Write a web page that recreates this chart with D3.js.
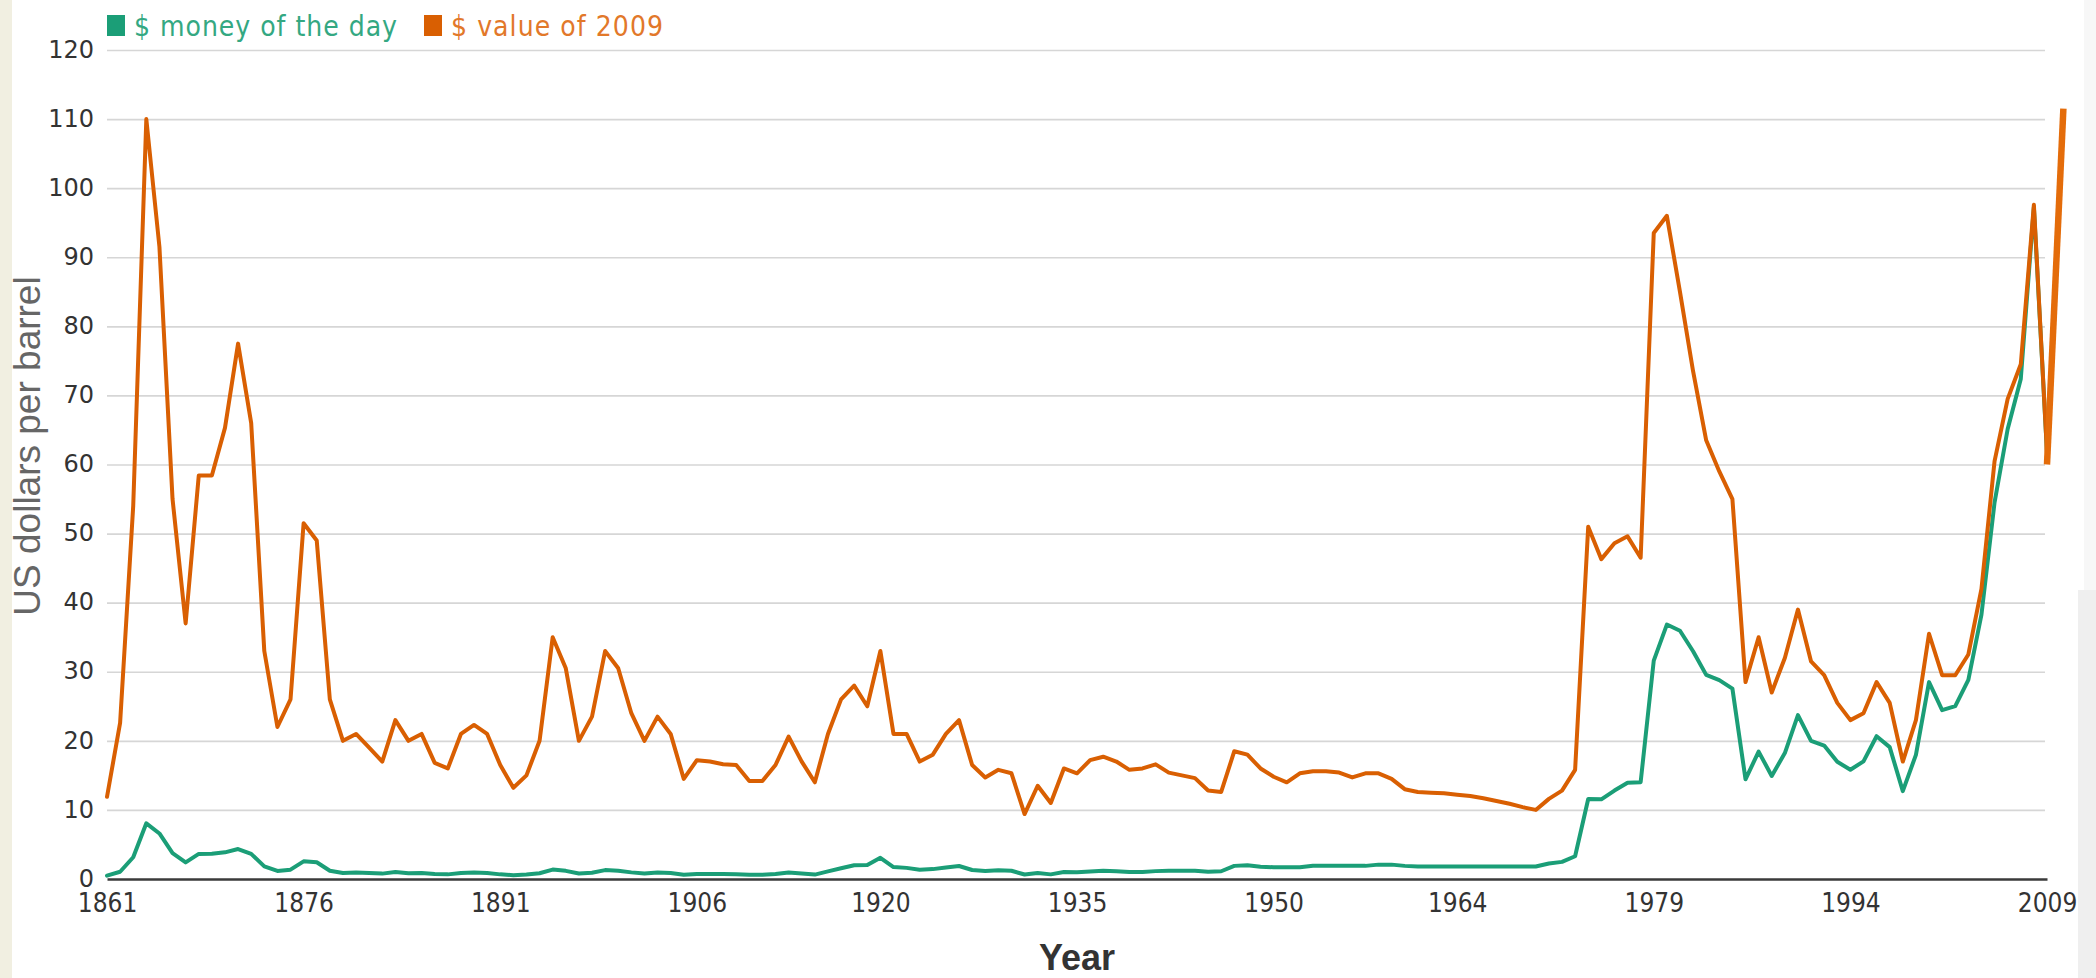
<!DOCTYPE html>
<html>
<head>
<meta charset="utf-8">
<script src="https://cdn.jsdelivr.net/npm/d3@7"></script>
<style>
  body { margin: 0; background: #fff; }
  svg { display: block; }
</style>
</head>
<body>
<svg id="chart" width="2096" height="978"></svg>
<script>
// crude oil price, US dollars per barrel, one value per year from 1861 to 2009
var firstYear = 1861;
var lastYear = 2009;

var moneyOfTheDay = [
  0.49, 1.05, 3.15, 8.06, 6.59, 3.74, 2.41, 3.63, 3.64, 3.86,
  4.34, 3.64, 1.83, 1.17, 1.35, 2.56, 2.42, 1.19, 0.86, 0.95,
  0.86, 0.78, 1.00, 0.84, 0.88, 0.71, 0.67, 0.88, 0.94, 0.87,
  0.67, 0.56, 0.64, 0.84, 1.36, 1.18, 0.79, 0.91, 1.29, 1.19,
  0.96, 0.80, 0.94, 0.86, 0.62, 0.73, 0.72, 0.72, 0.70, 0.61,
  0.61, 0.74, 0.95, 0.81, 0.64, 1.10, 1.56, 1.98, 2.01, 3.07,
  1.73, 1.61, 1.34, 1.43, 1.68, 1.88, 1.30, 1.17, 1.27, 1.19,
  0.65, 0.87, 0.67, 1.00, 0.97, 1.09, 1.18, 1.13, 1.02, 1.02,
  1.14, 1.19, 1.20, 1.21, 1.05, 1.12, 1.90, 1.99, 1.78, 1.71,
  1.71, 1.71, 1.93, 1.93, 1.93, 1.93, 1.90, 2.08, 2.08, 1.90,
  1.80, 1.80, 1.80, 1.80, 1.80, 1.80, 1.80, 1.80, 1.80, 1.80,
  2.24, 2.48, 3.29, 11.58, 11.53, 12.80, 13.92, 14.02, 31.61, 36.83,
  35.93, 32.97, 29.55, 28.78, 27.56, 14.43, 18.44, 14.92, 18.23, 23.73,
  20.00, 19.32, 16.97, 15.82, 17.02, 20.67, 19.09, 12.72, 17.97, 28.50,
  24.44, 25.02, 28.83, 38.27, 54.52, 65.14, 72.39, 97.26, 61.67
];

var valueOf2009 = [
  11.9, 22.6, 54.0, 110.0, 91.5, 55.0, 37.0, 58.4, 58.4, 65.3,
  77.5, 66.0, 33.0, 22.0, 26.0, 51.5, 49.0, 26.0, 20.0, 21.0,
  19.0, 17.0, 23.0, 20.0, 21.0, 16.8, 16.0, 21.0, 22.3, 21.0,
  16.5, 13.2, 15.0, 20.0, 35.0, 30.5, 20.0, 23.5, 33.0, 30.5,
  24.0, 20.0, 23.5, 21.0, 14.5, 17.2, 17.0, 16.6, 16.5, 14.2,
  14.2, 16.5, 20.6, 17.0, 14.0, 21.0, 26.0, 28.0, 25.0, 33.0,
  21.0, 21.0, 17.0, 18.0, 21.0, 23.0, 16.5, 14.7, 15.8, 15.3,
  9.4, 13.5, 11.0, 16.0, 15.3, 17.2, 17.7, 17.0, 15.8, 16.0,
  16.6, 15.4, 15.0, 14.6, 12.8, 12.6, 18.5, 18.0, 16.0, 14.8,
  14.0, 15.3, 15.6, 15.6, 15.4, 14.7, 15.3, 15.3, 14.5, 13.0,
  12.6, 12.5, 12.4, 12.2, 12.0, 11.7, 11.3, 10.9, 10.4, 10.0,
  11.6, 12.8, 15.8, 51.0, 46.3, 48.6, 49.6, 46.5, 93.5, 96.0,
  85.0, 73.5, 63.5, 59.0, 55.0, 28.5, 35.0, 27.0, 32.0, 39.0,
  31.5, 29.5, 25.5, 23.0, 24.0, 28.5, 25.5, 17.0, 23.0, 35.5,
  29.5, 29.5, 32.5, 42.0, 60.5, 69.5, 74.5, 97.6, 61.7
];

// the thick orange stroke drawn over the right edge of the picture
var markerYears = [2009, 2010.25];
var markerValues = [60, 111.5];

var xTickLabels = ["1861", "1876", "1891", "1906", "1920", "1935", "1950", "1964", "1979", "1994", "2009"];
var yTickLabels = [0, 10, 20, 30, 40, 50, 60, 70, 80, 90, 100, 110, 120];

var seriesNames = ["$ money of the day", "$ value of 2009"];
var seriesColors = ["#1b9e77", "#d95f02"];
var legendTextColors = ["#34a882", "#e2782a"];

var svg = d3.select("#chart");

var margin = {left: 107, right: 49, top: 50, bottom: 99};
var width = 2096 - margin.left - margin.right;
var height = 978 - margin.top - margin.bottom;

// odd strips along the edges of the picture
svg.append("rect")
  .attr("x", 0).attr("y", 0)
  .attr("width", 12).attr("height", 978)
  .attr("fill", "#f1efe1");
svg.append("rect")
  .attr("x", 2084).attr("y", 0)
  .attr("width", 12).attr("height", 590)
  .attr("fill", "#f7f7f7");
svg.append("rect")
  .attr("x", 2078).attr("y", 590)
  .attr("width", 18).attr("height", 388)
  .attr("fill", "#efefef");

var g = svg.append("g")
  .attr("transform", "translate(" + margin.left + "," + margin.top + ")");

var x = d3.scaleLinear()
  .domain([firstYear, lastYear])
  .range([0, width]);

var y = d3.scaleLinear()
  .domain([0, 120])
  .range([height, 0]);

var years = d3.range(firstYear, lastYear + 1);

// horizontal grid
g.append("g")
  .call(d3.axisLeft(y).tickValues(yTickLabels.slice(1)).tickSize(-(width - 2)).tickFormat(""))
  .call(function(s) { s.select(".domain").remove(); })
  .selectAll("line")
  .attr("stroke", "#d6d6d6")
  .attr("stroke-width", 1.6);

// y tick labels
g.append("g")
  .call(d3.axisLeft(y).tickValues(yTickLabels).tickSize(0).tickPadding(13))
  .call(function(s) { s.select(".domain").remove(); })
  .selectAll("text")
  .attr("fill", "#333")
  .attr("dy", "0.3em")
  .style("font-family", "'DejaVu Sans', sans-serif")
  .style("font-size", "24px");

// x axis
var xAxis = g.append("g")
  .attr("transform", "translate(0," + height + ")")
  .call(d3.axisBottom(x).tickValues(xTickLabels.map(Number)).tickFormat(function(d) { return String(d); }).tickSize(0).tickPadding(15));
xAxis.select(".domain")
  .attr("stroke", "#3a3a3a")
  .attr("stroke-width", 2.6);
xAxis.selectAll("text")
  .attr("fill", "#333")
  .style("font-family", "'DejaVu Sans Condensed', 'DejaVu Sans', sans-serif")
  .style("font-stretch", "condensed")
  .style("font-size", "26px");

// axis titles
svg.append("text")
  .attr("transform", "translate(40,446) rotate(-90)")
  .attr("text-anchor", "middle")
  .attr("fill", "#666")
  .style("font-family", "'Liberation Sans', Arial, sans-serif")
  .style("font-size", "37px")
  .text("US dollars per barrel");

svg.append("text")
  .attr("x", 1077)
  .attr("y", 970)
  .attr("text-anchor", "middle")
  .attr("fill", "#333")
  .style("font-family", "'Liberation Sans', Arial, sans-serif")
  .style("font-weight", "bold")
  .style("font-size", "36px")
  .text("Year");

// lines
var line = d3.line()
  .x(function(d, i) { return x(years[i]); })
  .y(function(d) { return y(d); });

[moneyOfTheDay, valueOf2009].forEach(function(series, k) {
  g.append("path")
    .datum(series)
    .attr("fill", "none")
    .attr("stroke", seriesColors[k])
    .attr("stroke-width", 4)
    .attr("stroke-linejoin", "round")
    .attr("stroke-linecap", "round")
    .attr("d", line);
});

var markerLine = d3.line()
  .x(function(d) { return x(d); })
  .y(function(d, i) { return y(markerValues[i]); });

g.append("path")
  .datum(markerYears)
  .attr("fill", "none")
  .attr("stroke", "#e46c0a")
  .attr("stroke-width", 6.5)
  .attr("d", markerLine);

// legend
var legend = svg.append("g")
  .attr("transform", "translate(107,14)");

var legendX = [0, 317];
seriesNames.forEach(function(name, k) {
  legend.append("rect")
    .attr("x", legendX[k])
    .attr("y", 1)
    .attr("width", 18)
    .attr("height", 21)
    .attr("fill", seriesColors[k]);
  legend.append("text")
    .attr("x", legendX[k] + 27)
    .attr("y", 22)
    .attr("fill", legendTextColors[k])
    .attr("textLength", k === 0 ? 263 : 212)
    .style("font-family", "'DejaVu Sans Condensed', 'DejaVu Sans', sans-serif")
    .style("font-stretch", "condensed")
    .style("font-size", "28px")
    .text(name);
});
</script>
</body>
</html>
